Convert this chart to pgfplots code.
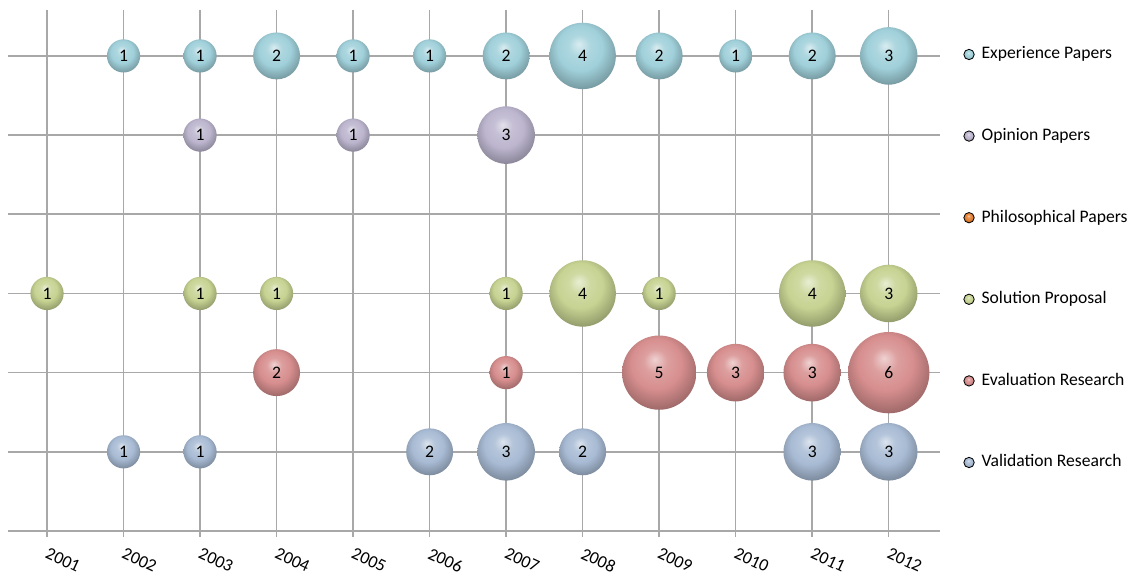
\documentclass[border=0pt]{standalone}
\usepackage{fontspec}
\setmainfont{Carlito}
\usepackage{pgfplots}
\usepackage{pgfplotstable}
\pgfplotsset{compat=1.18}

\definecolor{expc}{RGB}{160,208,218}
\definecolor{opic}{RGB}{188,181,206}
\definecolor{phic}{RGB}{228,128,50}
\definecolor{solc}{RGB}{198,211,146}
\definecolor{evac}{RGB}{215,142,142}
\definecolor{valc}{RGB}{168,187,212}
\definecolor{gridc}{RGB}{168,168,168}

\newcommand{\declareball}[2]{%
\pgfdeclareradialshading{#1}{\pgfqpoint{-3bp}{9bp}}{%
 color(0bp)=(#2!40!white);
 color(8bp)=(#2!85!white);
 color(17bp)=(#2);
 color(27bp)=(#2!78!black);
 color(33bp)=(#2!65!black);
 color(35.5bp)=(#2!85!white);
 color(50bp)=(#2!85!white)}}
\declareball{expball}{expc}
\declareball{opiball}{opic}
\declareball{phiball}{phic}
\declareball{solball}{solc}
\declareball{evaball}{evac}
\declareball{valball}{valc}

% x: year, y: row, v: count
\pgfplotstableread{
x y v
2002 6 1
2003 6 1
2004 6 2
2005 6 1
2006 6 1
2007 6 2
2008 6 4
2009 6 2
2010 6 1
2011 6 2
2012 6 3
}\tblexp
\pgfplotstableread{
x y v
2003 5 1
2005 5 1
2007 5 3
}\tblopi
\pgfplotstableread{
x y v
2001 3 1
2003 3 1
2004 3 1
2007 3 1
2008 3 4
2009 3 1
2011 3 4
2012 3 3
}\tblsol
\pgfplotstableread{
x y v
2004 2 2
2007 2 1
2009 2 5
2010 2 3
2011 2 3
2012 2 6
}\tbleva
\pgfplotstableread{
x y v
2002 1 1
2003 1 1
2006 1 2
2007 1 3
2008 1 2
2011 1 3
2012 1 3
}\tblval

\pgfplotsset{
 bubble/.style={
  only marks, mark=none, forget plot,
  point meta=explicit symbolic,
  nodes near coords={\pgfplotspointmeta},
  every node near coord/.append style={
    circle, inner sep=0pt, anchor=center, text=black,
    shade, shading=#1,
    minimum size={16.6*sqrt(\pgfplotspointmeta)},
    font=\fontsize{8.8}{10.5}\selectfont},
 },
 legball/.style={legend image code/.code={\path[shade, shading=#1] (0,0) circle (2.6pt);}},
}

\begin{document}
\begin{tikzpicture}
\path[use as bounding box] (0,0) rectangle (567.5pt,289.5pt);
\begin{axis}[
 at={(4pt,24pt)}, anchor=south west,
 scale only axis, width=466pt, height=260.5pt,
 xmin=2000.49, xmax=2012.67, ymin=0, ymax=6.58,
 clip=false,
 axis line style={draw=none},
 xtick={2001,...,2012},
 xticklabels={2001,2002,2003,2004,2005,2006,2007,2008,2009,2010,2011,2012},
 ytick={0,...,6}, yticklabels={},
 ytick style={draw=none},
 xtick pos=left, xtick align=outside,
 major tick length=3pt,
 xtick style={gridc, line width=0.8pt},
 grid=major,
 grid style={gridc, line width=0.8pt},
 x tick label style={rotate=-25, anchor=north west, inner sep=0pt, yshift=-4pt, xshift=3pt,
   font=\fontsize{8.8}{10.5}\selectfont},
 legend cell align=left,
 legend style={draw=none, fill=none, inner sep=0pt,
   at={(1.0247,0.933)}, anchor=north west,
   row sep=31.6pt, column sep=3pt,
   font=\fontsize{8.8}{10.5}\selectfont,
   nodes={inner sep=0.5pt, text height=6.3pt, text depth=1.9pt}},
]
\addlegendimage{legball=expball}\addlegendentry{Experience Papers}
\addlegendimage{legball=opiball}\addlegendentry{Opinion Papers}
\addlegendimage{legball=phiball}\addlegendentry{Philosophical Papers}
\addlegendimage{legball=solball}\addlegendentry{Solution Proposal}
\addlegendimage{legball=evaball}\addlegendentry{Evaluation Research}
\addlegendimage{legball=valball}\addlegendentry{Validation Research}

\addplot[bubble=expball] table[x=x,y=y,meta=v] {\tblexp};
\addplot[bubble=opiball] table[x=x,y=y,meta=v] {\tblopi};
\addplot[bubble=solball] table[x=x,y=y,meta=v] {\tblsol};
\addplot[bubble=evaball] table[x=x,y=y,meta=v] {\tbleva};
\addplot[bubble=valball] table[x=x,y=y,meta=v] {\tblval};
\end{axis}
\end{tikzpicture}
\end{document}
